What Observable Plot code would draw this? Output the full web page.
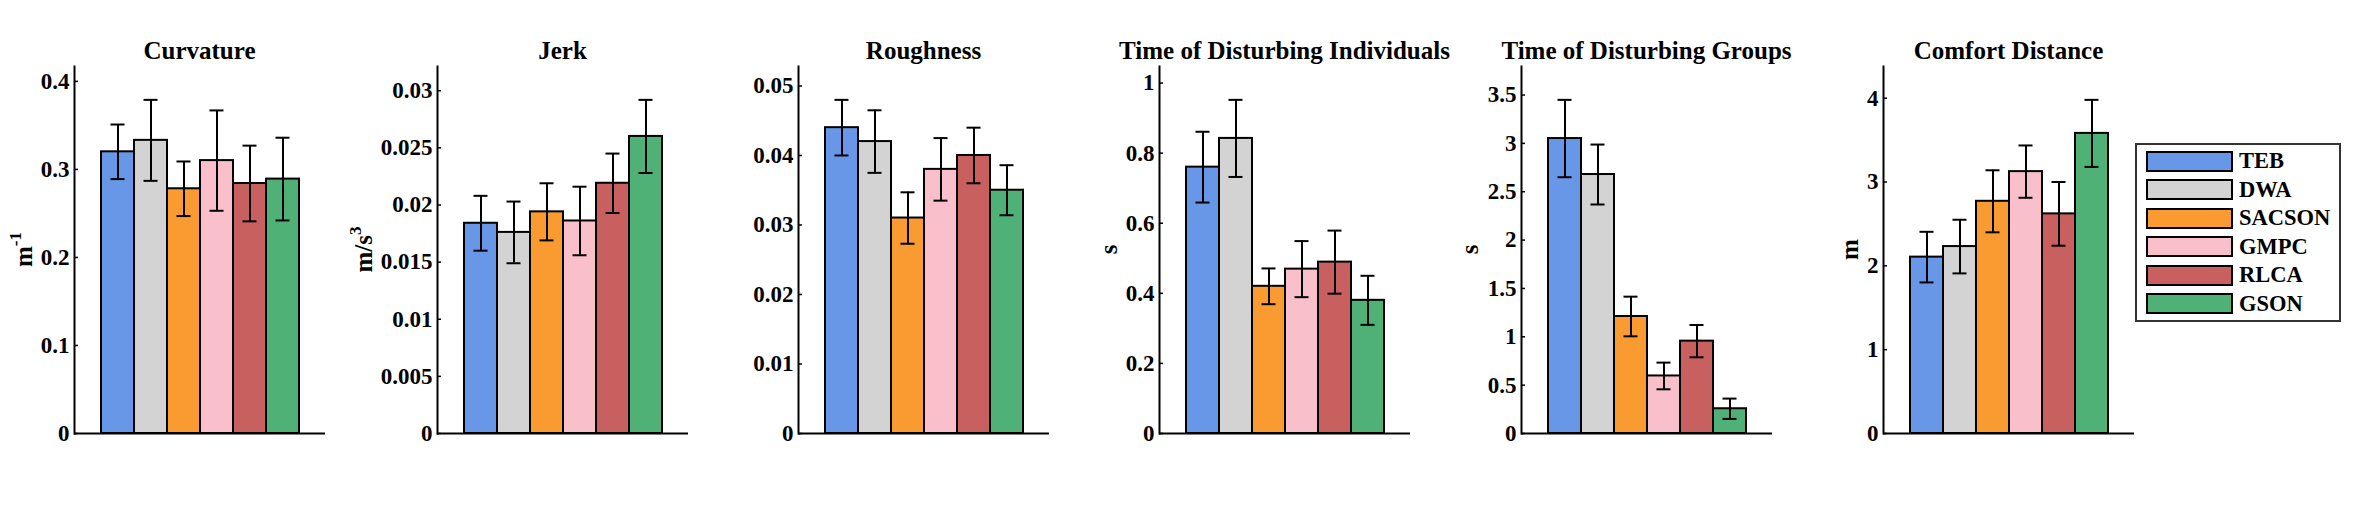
<!DOCTYPE html>
<html><head><meta charset="utf-8">
<script src="https://cdn.jsdelivr.net/npm/d3@7"></script>
<script src="https://cdn.jsdelivr.net/npm/@observablehq/plot@0.6"></script>
<style>
body{margin:0;background:#fff;}
#root{position:relative;width:2367px;height:505px;background:#fff;overflow:hidden;font-family:"Liberation Serif","Times New Roman",serif;font-weight:bold;color:#000;}
#root svg.panel{position:absolute;top:0;overflow:visible !important;font-family:"Liberation Serif","Times New Roman",serif !important;font-weight:bold !important;color:#000;background:transparent;}
#root svg.panel text{font-family:"Liberation Serif","Times New Roman",serif !important;font-weight:bold !important;}
.lg-box{position:absolute;border:2px solid #333;box-sizing:border-box;}
.lg-sw{position:absolute;border:2px solid #000;box-sizing:border-box;}
.lg-tx{position:absolute;font-size:22.5px;line-height:22px;white-space:nowrap;}
</style></head><body><div id="root"></div>
<script>
// ---- data ----
const methods = ["TEB", "DWA", "SACSON", "GMPC", "RLCA", "GSON"];
const colors = ["#6897E8", "#D3D3D3", "#F99B31", "#F9BFCB", "#C86060", "#4FB176"];

const titles = ["Curvature", "Jerk", "Roughness", "Time of Disturbing Individuals", "Time of Disturbing Groups", "Comfort Distance"];
const unitBase = ["m", "m/s", "", "s", "s", "m"];
const unitSup = ["-1", "3", "", "", "", ""];

const curvatureMean = [0.320, 0.333, 0.278, 0.310, 0.284, 0.289];
const curvatureErr  = [0.031, 0.046, 0.031, 0.057, 0.043, 0.047];
const jerkMean = [0.0184, 0.0176, 0.0194, 0.0186, 0.0219, 0.0260];
const jerkErr  = [0.0024, 0.0027, 0.0025, 0.0030, 0.0026, 0.0032];
const roughnessMean = [0.044, 0.042, 0.031, 0.038, 0.040, 0.035];
const roughnessErr  = [0.0040, 0.0045, 0.0037, 0.0045, 0.0040, 0.0036];
const indivMean = [0.760, 0.842, 0.420, 0.469, 0.489, 0.380];
const indivErr  = [0.101, 0.110, 0.051, 0.080, 0.090, 0.070];
const groupMean = [3.05, 2.678, 1.21, 0.595, 0.955, 0.256];
const groupErr  = [0.40, 0.31, 0.205, 0.138, 0.167, 0.105];
const comfortMean = [2.104, 2.23, 2.77, 3.124, 2.62, 3.58];
const comfortErr  = [0.302, 0.32, 0.37, 0.312, 0.38, 0.40];

const curvatureTicks = [0, 0.1, 0.2, 0.3, 0.4];
const jerkTicks = [0, 0.005, 0.01, 0.015, 0.02, 0.025, 0.03];
const roughnessTicks = [0, 0.01, 0.02, 0.03, 0.04, 0.05];
const indivTicks = [0, 0.2, 0.4, 0.6, 0.8, 1];
const groupTicks = [0, 0.5, 1, 1.5, 2, 2.5, 3, 3.5];
const comfortTicks = [0, 1, 2, 3, 4];

const means = [curvatureMean, jerkMean, roughnessMean, indivMean, groupMean, comfortMean];
const errs = [curvatureErr, jerkErr, roughnessErr, indivErr, groupErr, comfortErr];
const ticks = [curvatureTicks, jerkTicks, roughnessTicks, indivTicks, groupTicks, comfortTicks];

// ---- layout ----
const axisX = [74, 436.7, 797.7, 1159, 1521, 1883.3];
const labelOffset = [42, 65, 0, 42, 43, 25];
const ML = 90, MR = 10, MT = 66, MB = 72, H = 505, AW = 251;
const root = document.getElementById("root");
const colorScale = {domain: methods, range: colors};

for (let i = 0; i < 6; i++) {
  const data = methods.map((m, j) => ({method: m, v: means[i][j], e: errs[i][j]}));
  const ymax = 1.1 * d3.max(data, d => d.v + d.e);
  const W = ML + AW + MR;
  const svg = Plot.plot({
    width: W, height: H,
    marginLeft: ML, marginRight: MR, marginTop: MT, marginBottom: MB,
    x: {domain: methods, paddingInner: 0, paddingOuter: 0.727, align: 0.5, axis: null},
    y: {domain: [0, ymax], axis: null},
    color: colorScale,
    marks: [
      Plot.barY(data, {x: "method", y: "v", fill: "method", stroke: "#000", strokeWidth: 2, inset: 0}),
      Plot.ruleX(data, {x: "method", y1: d => d.v - d.e, y2: d => d.v + d.e, stroke: "#000", strokeWidth: 2}),
      Plot.tickY(data, {x: "method", y: d => d.v + d.e, stroke: "#000", strokeWidth: 2, inset: 9.5}),
      Plot.tickY(data, {x: "method", y: d => d.v - d.e, stroke: "#000", strokeWidth: 2, inset: 9.5}),
      Plot.ruleY(ticks[i], {y: d => d, stroke: "#000", strokeWidth: 1.5, insetLeft: 0, insetRight: AW - 4}),
      Plot.axisY(ticks[i], {anchor: "left", tickSize: 0, tickPadding: 5, tickFormat: d => String(d), fontSize: 23, label: null}),
      Plot.ruleY([0], {stroke: "#000", strokeWidth: 2}),
      Plot.frame({anchor: "left", stroke: "#000", strokeWidth: 2})
    ]
  });
  svg.classList.add("panel");
  svg.setAttribute("font-family", "Liberation Serif, serif");
  svg.setAttribute("font-weight", "bold");
  svg.style.left = (axisX[i] - ML) + "px";
  const s = d3.select(svg);
  s.append("text")
    .attr("x", ML + AW / 2).attr("y", 59)
    .attr("text-anchor", "middle")
    .attr("font-size", 25)
    .text(titles[i]);
  if (unitBase[i]) {
    const t = s.append("text")
      .attr("transform", `translate(${ML - labelOffset[i]},249.5) rotate(-90)`)
      .attr("text-anchor", "middle")
      .attr("font-size", 25);
    t.append("tspan").text(unitBase[i]);
    if (unitSup[i]) t.append("tspan").attr("dy", -11).attr("font-size", 17).text(unitSup[i]);
  }
  root.appendChild(svg);
}

// ---- legend ----
const box = document.createElement("div");
box.className = "lg-box";
Object.assign(box.style, {left: "2135px", top: "143px", width: "206px", height: "179px"});
root.appendChild(box);
methods.forEach((m, j) => {
  const cy = 161 + 28.5 * j;
  const sw = document.createElement("div");
  sw.className = "lg-sw";
  Object.assign(sw.style, {left: "2146px", top: (cy - 10.5) + "px", width: "87px", height: "21px", background: colors[j]});
  root.appendChild(sw);
  const tx = document.createElement("div");
  tx.className = "lg-tx";
  tx.textContent = m;
  Object.assign(tx.style, {left: "2239px", top: (cy - 11) + "px"});
  root.appendChild(tx);
});
</script>
</body></html>
